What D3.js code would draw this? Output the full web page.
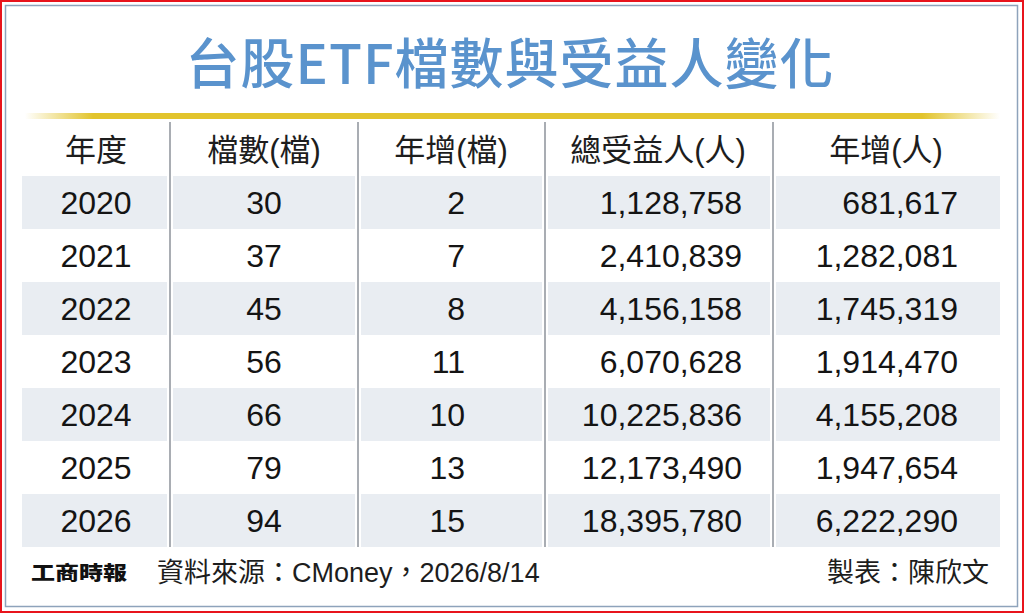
<!DOCTYPE html>
<html>
<head>
<meta charset="utf-8">
<script src="https://cdn.jsdelivr.net/npm/d3@7"></script>
<style>
  body { margin: 0; background: #fff; }
  svg { display: block; }
</style>
</head>
<body>
<script>
// table data
var years = ["2020", "2021", "2022", "2023", "2024", "2025", "2026"];
var funds = [30, 37, 45, 56, 66, 79, 94];
var fundGrowth = [2, 7, 8, 11, 10, 13, 15];
var holders = [1128758, 2410839, 4156158, 6070628, 10225836, 12173490, 18395780];
var holderGrowth = [681617, 1282081, 1745319, 1914470, 4155208, 1947654, 6222290];
var headers = ["年度", "檔數(檔)", "年增(檔)", "總受益人(人)", "年增(人)"];

var W = 1024, H = 613;
var fontMain = "'Liberation Sans', Arial, 'Noto Sans CJK TC', sans-serif";
var fmt = d3.format(",");

var svg = d3.select("body").append("svg")
    .attr("width", W)
    .attr("height", H);

// frames
svg.append("rect").attr("x", 1).attr("y", 1).attr("width", W - 2).attr("height", H - 2)
    .attr("fill", "#fff").attr("stroke", "#e8141c").attr("stroke-width", 2);
svg.append("rect").attr("x", 5.5).attr("y", 5.5).attr("width", 1012).attr("height", 601)
    .attr("fill", "none").attr("stroke", "#8ea3bb").attr("stroke-width", 1.5);

// title
svg.append("text").text("台股ETF檔數與受益人變化")
    .attr("x", 510).attr("y", 84)
    .attr("text-anchor", "middle")
    .attr("fill", "#5a93cd")
    .attr("font-family", "'Noto Sans CJK TC', sans-serif")
    .attr("font-weight", "500")
    .attr("letter-spacing", 1)
    .attr("font-size", 54);

// gold rule with faded ends
var grad = svg.append("defs").append("linearGradient").attr("id", "gold")
    .attr("x1", "0%").attr("x2", "100%");
grad.append("stop").attr("offset", "0%").attr("stop-color", "#e2c42c").attr("stop-opacity", 0);
grad.append("stop").attr("offset", "7%").attr("stop-color", "#e2c42c").attr("stop-opacity", 1);
grad.append("stop").attr("offset", "92%").attr("stop-color", "#e2c42c").attr("stop-opacity", 1);
grad.append("stop").attr("offset", "100%").attr("stop-color", "#e2c42c").attr("stop-opacity", 0);
svg.append("rect").attr("x", 25).attr("y", 113).attr("width", 975).attr("height", 6)
    .attr("fill", "url(#gold)");

// row scale
var y = d3.scaleBand().domain(years).range([176, 547]).padding(0);
var headerTop = 122, headerBottom = 176;

// shaded bands (every other row)
svg.selectAll(".band")
    .data(years.filter(function(d, i) { return i % 2 == 0; }))
    .enter().append("rect")
    .attr("class", "band")
    .attr("x", 22)
    .attr("y", function(d) { return y(d); })
    .attr("width", 978)
    .attr("height", y.bandwidth())
    .attr("fill", "#e9edf2");

// column dividers
var dividers = [170, 358, 545, 773];
svg.selectAll(".divw").data(dividers).enter().append("line")
    .attr("x1", function(d) { return d; }).attr("x2", function(d) { return d; })
    .attr("y1", headerTop).attr("y2", 547)
    .attr("stroke", "#fff").attr("stroke-width", 6);
svg.selectAll(".div").data(dividers).enter().append("line")
    .attr("x1", function(d) { return d; }).attr("x2", function(d) { return d; })
    .attr("y1", headerTop).attr("y2", 547)
    .attr("stroke", "#a9adb3").attr("stroke-width", 2);

// headers
var headerX = [96, 264, 451, 658, 886];
svg.selectAll(".head").data(headers).enter().append("text")
    .attr("class", "head")
    .text(function(d) { return d; })
    .attr("x", function(d, i) { return headerX[i]; })
    .attr("y", (headerTop + headerBottom) / 2 + 11.5)
    .attr("text-anchor", "middle")
    .attr("fill", "#1d1d1d")
    .attr("font-family", fontMain)
    .attr("font-size", 31);

// columns: value arrays + anchor
var columns = [
  { vals: years, x: 96, anchor: "middle" },
  { vals: funds, x: 264, anchor: "middle" },
  { vals: fundGrowth, x: 465, anchor: "end" },
  { vals: holders.map(fmt), x: 742, anchor: "end" },
  { vals: holderGrowth.map(fmt), x: 958, anchor: "end" }
];

columns.forEach(function(col) {
  svg.append("g").selectAll("text")
      .data(col.vals)
      .enter().append("text")
      .text(function(d) { return d; })
      .attr("x", col.x)
      .attr("y", function(d, i) { return y(years[i]) + y.bandwidth() / 2 + 11.5; })
      .attr("text-anchor", col.anchor)
      .attr("fill", "#141414")
      .attr("font-family", fontMain)
      .attr("font-size", 32);
});

// footer
svg.append("text").text("工商時報")
    .attr("transform", "translate(31,580) scale(1,0.8)")
    .attr("fill", "#111")
    .attr("font-family", "'Noto Sans CJK TC', sans-serif")
    .attr("font-weight", "900")
    .attr("font-size", 24);
svg.append("text").text("資料來源：CMoney，2026/8/14")
    .attr("x", 157).attr("y", 582)
    .attr("fill", "#1d1d1d")
    .attr("font-family", fontMain)
    .attr("font-size", 27);
svg.append("text").text("製表：陳欣文")
    .attr("x", 989).attr("y", 582)
    .attr("text-anchor", "end")
    .attr("fill", "#1d1d1d")
    .attr("font-family", fontMain)
    .attr("font-size", 27);
</script>
</body>
</html>
